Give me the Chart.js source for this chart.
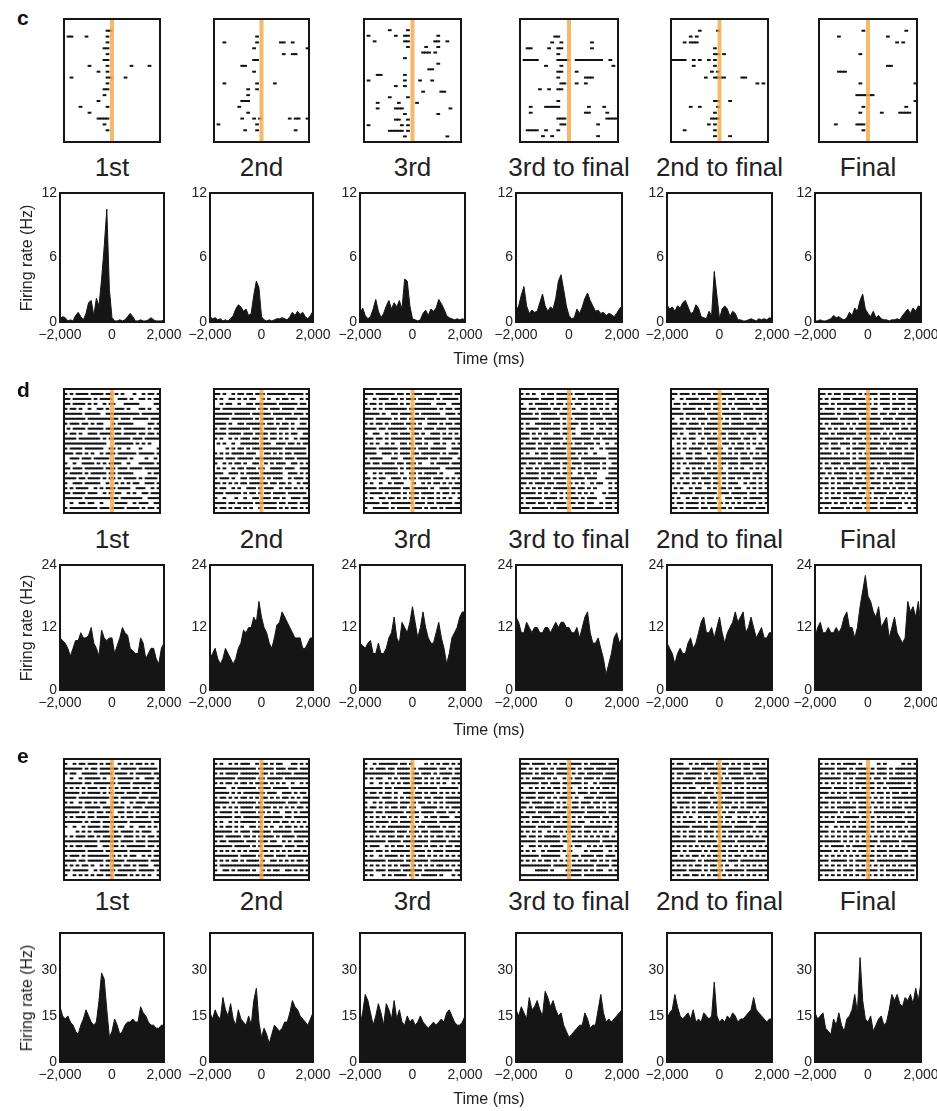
<!DOCTYPE html>
<html>
<head>
<meta charset="utf-8">
<script src="https://cdn.jsdelivr.net/npm/chart.js@4.4.1/dist/chart.umd.min.js"></script>
<style>
  html, body { margin: 0; padding: 0; background: #fff; }
  body { position: relative; width: 937px; height: 1111px; overflow: hidden;
         font-family: "Liberation Sans", Arial, Helvetica, sans-serif; color: #222; }
  .txt { position: absolute; white-space: nowrap; }
</style>
</head>
<body>
<script>
// ---- Conditions, axes and tick labels ----
const conditions = ['1st', '2nd', '3rd', '3rd to final', '2nd to final', 'Final'];
const panelLetters = ['c', 'd', 'e'];
const binTimes = [-2000,-1900,-1800,-1700,-1600,-1500,-1400,-1300,-1200,-1100,-1000,-900,-800,-700,-600,-500,-400,-300,-200,-100,0,100,200,300,400,500,600,700,800,900,1000,1100,1200,1300,1400,1500,1600,1700,1800,1900,2000];
const xTickValues = [-2000, 0, 2000];
const xTickLabels = ['\u22122,000', '0', '2,000'];
const yTicksC = [0, 6, 12];  const yMaxC = 12;
const yTicksD = [0, 12, 24]; const yMaxD = 24;
const yTicksE = [0, 15, 30]; const yMaxE = 42;
const spikeBinMs = 125;   // raster strings: one character per 125 ms, '#' = spike
const eventTime = 0;      // event marker (ms)

// ---- Firing rates (Hz), one value per entry of binTimes ----
const rateC1 = [0.3,0.5,0.4,0.1,0.2,0.1,0.6,0.9,0.5,0.2,0.8,1.8,2.0,0.6,2.2,1.5,4.0,7.0,10.5,3.0,0.4,0.1,0.1,0.2,0.1,0.2,0.5,0.8,0.5,0.1,0.1,0.2,0.1,0.1,0.2,0.4,0.2,0.1,0.1,0.1,0.2];
const rateC2 = [0.5,0.3,0.4,0.2,0.3,0.1,0.2,0.1,0.3,0.6,1.2,1.6,1.4,1.0,1.2,0.6,0.8,2.5,3.8,3.2,0.5,0.2,0.1,0.2,0.1,0.2,0.3,0.3,0.4,0.3,0.2,0.5,0.9,0.6,1.0,0.7,0.9,0.5,0.3,0.6,1.0];
const rateC3 = [0.8,1.3,0.6,0.3,0.5,1.2,2.1,1.0,0.4,0.8,1.5,2.0,1.2,1.8,1.4,2.0,1.2,4.0,3.8,1.5,0.3,0.2,0.1,0.2,0.8,1.1,0.6,1.2,1.0,1.3,2.1,1.7,1.2,0.6,0.4,0.3,0.2,0.3,0.2,0.3,0.2];
const rateC4 = [1.0,1.5,2.5,3.3,1.5,0.8,1.1,0.9,1.0,1.8,2.6,1.5,1.0,1.4,1.2,2.2,3.8,4.4,3.0,1.5,0.6,0.3,0.4,1.2,0.8,1.4,2.2,2.7,2.0,1.5,1.0,1.1,0.8,0.9,0.6,0.8,0.7,0.5,0.8,1.2,1.5];
const rateC5 = [1.6,1.2,1.4,1.0,1.5,1.3,1.8,2.0,1.4,0.8,0.9,1.6,1.3,0.5,0.4,0.3,1.0,0.6,4.7,2.5,0.3,1.2,1.5,1.2,0.5,1.0,0.8,0.2,0.2,0.1,0.1,0.2,0.3,0.2,0.1,0.3,0.2,0.3,0.2,0.4,0.3];
const rateC6 = [0.1,0.1,0.2,0.1,0.1,0.2,0.3,0.6,0.4,0.5,0.3,0.2,0.4,0.9,0.6,1.3,1.0,2.0,2.6,1.2,0.8,0.5,1.0,0.4,0.6,0.3,0.2,0.2,0.1,0.2,0.2,0.3,0.2,0.6,0.9,1.2,0.8,1.3,1.0,1.5,1.4];

const rateD1 = [10,9.5,9,8,6.5,8,9.5,9.5,11,10,10,10.5,12,9,8,6.5,11.5,10,9.5,10,10,7,8.5,10,12,11,10.5,8,7.5,7,7,10,9,6,7,8,8,6,5,8,9];
const rateD2 = [6,7,8,6,5,6,8,7,6,5,6,8,9,11.5,11,12,12,14,13,17,14,12,11,9,8,10,12.5,13,15,14,13,12,11,10,10,10,8,8,9,10,10];
const rateD3 = [9,8.5,8,9,9.5,7,7,9,7,7,8,10,11,14,10,9,13,12,11,13,16,13,10,12,15,12,10,9,9,11,13,10,8,5,7,10,11,12,14,15,15];
const rateD4 = [14,13,11,11,13,12,11,12,12,11,11,12,12,11,12,13,12,13,13,12,12,11,11,12,10,12,14,15,11,9,9,10,8,6,3,5,7,10,11,9,10];
const rateD5 = [9,8,7,5,7,8,7,7,9,10,8,9,11,13,14,11,11,12,10,12,14,11,9,11,12,13,15,13,14,15,11,12,14,12,10,11,12,10,10,11,11];
const rateD6 = [10,12,13,11,11,12,11,11,12,11,12,14,15,12,12,10,12,16,19,22,18,17,15,14,16,12,13,14,10,12,14,11,10,9,10,17,15,16,14,17,12];

const rateE1 = [18,15,14,15,13,12,10,9,12,14,17,15,13,12,13,20,29,27,17,8,10,14,12,9,10,12,13,13,14,13,13,18,16,15,13,12,12,11,11,12,12];
const rateE2 = [16,14,17,15,14,21,17,15,19,14,12,17,14,13,12,15,12,20,24,13,8,11,9,6,9,12,11,10,11,13,13,16,20,18,17,15,14,13,12,14,16];
const rateE3 = [12,16,22,20,16,12,15,19,16,12,19,17,14,20,14,17,13,12,15,13,14,12,13,15,13,12,11,12,13,12,13,14,13,16,17,15,13,12,12,13,15];
const rateE4 = [17,15,18,16,14,21,17,18,20,17,15,23,21,18,20,17,15,16,12,10,8,9,10,11,12,12,16,14,11,12,12,17,22,16,13,14,13,14,15,16,17];
const rateE5 = [14,16,17,22,18,15,14,15,16,14,17,13,14,13,16,15,14,15,26,15,13,14,13,15,14,16,15,13,14,14,15,16,17,21,17,16,15,14,13,14,14];
const rateE6 = [16,14,15,16,11,10,9,14,12,16,12,10,14,15,17,22,16,34,20,14,13,15,10,12,14,15,12,13,17,22,20,22,19,18,21,20,22,19,24,20,26];

// ---- Spike rasters, one string per trial ----
const rasterC1 = [
"",
"..............##",
".##....#......#",
"..............#",
".............##",
"..............#",
".............##",
"........#.....#.......#.....#",
"...........#..#",
"..#...........##....#",
"..............#",
".............##",
".............#",
"...........#",
".....#........#",
"........#",
"...........####",
".............#",
"..............#",
""];
const rasterC2 = [
"",
"",
"..............#",
"...#..........#.......##..#",
".............#.................#",
".......................#..##",
".............##",
".........##",
".............#",
"",
"...#..........#.....#",
"...........#..#",
"...........#",
".........###",
"........#",
"...........#",
".........#...#.#.........#.##..#",
".#............#",
"..........#...#............#",
""];
const rasterC3 = [
"",
"........#.....#",
".#........#..##.........#",
"...#.........##........##..#",
"..............#.....#...#",
"...................###.#",
".............#",
"........................#",
".....................##",
"....##.......#",
".#...........#....#...#",
"..........#..#",
"...................#.....##",
"........#.....#",
"....#......#.....#",
"....#.....###...............#",
".............#..........#",
"..........##..#",
".#..........#.#",
"........#####.#",
".............#.............#"];
const rasterC4 = [
"",
"",
"...........##",
"..........#..#.........#",
"..##.....#..##.........#",
"............#",
".#####......####..#########..#",
"........#....#................#",
"............##....#",
"............#........###",
".............##...#..#",
"......#..#..##",
"",
"............#",
"...#....#####.........#....#",
"...#.................##.....#",
"............###.............####",
".............##..........#",
"..####..#...#",
".......#..#..............#"];
const rasterC5 = [
"",
".........#.....#",
"......#.#",
"....#.###",
"..............#",
"..............##.#",
"#####..#.#..#.#",
".......#......#",
".............#.#",
"...........#..####.....##",
"............................#.#",
"",
"",
"..............##...#",
"......#..#.....#",
"..............#",
".............###",
"............#.#",
"....#.........#",
"..............#....#"];
const rasterC6 = [
"",
"..............#.............#",
"......#...............#",
".........................#.#",
"",
".............#",
"",
"......................##",
"......###",
"",
".............#.................#",
"",
"............######",
"...............................#",
"..............#.............#",
".............#......#.....####",
"",
".....#......###",
"..............#",
""];

const rasterD1 = [
"#.#.####.####.##.#.#...#..#.##.#",
"##.######.#.####..###.#..##.#.##",
"##.####.#.#..#.##...#####.....##",
"#.##.#..#..##.#..###.#...##.#..#",
"######.#####..###########.######",
"#######.##########.###.#####.###",
"#.###.##.#.##...#.#####.....##.#",
".#.####.#####.#####.#######.#.##",
"#.##.#..###.####.##.####.##.##.#",
"####.#######.#.#######.###.#####",
"##############...######.#.#.#...",
"#.####.######..##.#..#...#.....#",
"###.##.#.#..#.###.######.#####.#",
"..###.###.#####..####.#....#..#.",
"#..#..####.#.#.####..#...#####.#",
"##.###.######.###.###.####.#####",
"#.####.#.#####.##.#####.....#.##",
"####.##.####.#.##.#.####.#.####.",
"#..###.#####..#..#.#.#.##..###.#",
"#.#.####..#.#.###.####..###..#.#",
"##.####.###..#.#.##..#.#..##.###",
"######.###########.#######..####",
"..#..##.##..#....####..#.###..##",
"#.#########.###.####.####.#.##.#"];
const rasterD2 = [
"##.#..#.##.##.###.######.#####.#",
"#.#..##.#.#.##..#.#..#.##.#..#.#",
"..#.##..#..##.#######.######.##.",
"##.###########.###.###.####.####",
"######.#####.######.######.###.#",
"#####.#######.#.####.##.####.###",
"####.#..##.######.##.#.##.#..##.",
"#.##.#######.###.####.###.#.####",
"####.####.###.####.##.#.#.##..##",
"#.#..#.#.###.##.##.##.#.#..#.###",
".#.#..#..######.###..###.##.#.##",
"....#.#.##.#.##########.#######.",
"#.#.#.####.###...##.#.#.##.####.",
"###.###.#####.#########.###.####",
"#..#.#.##.#..##..#.#.###..##.#.#",
".#.#..#.##.###.##..####.###..###",
"###..###.#.####.#######..###.#.#",
"#.###.#..##.#####.#.###..#.###.#",
"##.#.#.#.##.######.##.##.#..#.##",
"#.##..#.#..###.#.###..#.##.#.#.#",
"###.#####.#.##.#.##.####.######.",
"#..#...#..#..##.###.##.#..###.##",
"####.##.#####.#######.##.###.###",
"#.##.#.##.#.#..#.####.#.#.##.#.#"];
const rasterD3 = [
"###.######.##.#.###.####.####.##",
"#..#.###.##.#.###.#####.#.#####.",
"#.##.#.####.#.#..#####..###..###",
"##.#.#.#######.#########.#.##.##",
"#####.#..##.####.#.######..###.#",
"###.#####.#.##.#####.######.####",
"#.#.##.#.####.###.#..###.#.##.##",
"####.##.######.####.###.###.####",
"#..##..#.##.###.##.#..###.#.#.#.",
"###.##.#.#######.##.#####.###.##",
"#.#.#..#.#..##.#.##.#..##.#..#.#",
"####.######.#####.###.#####..###",
"####..###.#.###.##.######.#.###.",
"#.####...##..###.####.##.####..#",
"##.##.####.##.###.#...#.####.###",
"###########.#.###########..#####",
"#..#.#.####.#..##.#.####.#....##",
"##.#.##..###.#.##.####.###.#.#.#",
"#.#..#..#.###...#..#.#.##.#.#.##",
"####.#######.##.#####.#..###.###",
"#.####.#.###.#.###.####.#.##.#.#",
"#.#..##.##.#.#.###.#.##.#.#.#..#",
"#####.##.#######.###.##.#####.##",
"#..#####.#.####.###.#.##.#.#####"];
const rasterD4 = [
"#.#.#..#.##.#####.###.#####.####",
"######.####.####.#.###.#.##.####",
"#..#.####.#.##.##.##.#.#.##.#..#",
"##.##.####.##.##.#..##.##.#.#.##",
"####.#.#####.###.#####.###.###.#",
"######.######.#.#.####.####.####",
"#.#..#####.##.#.###.##.#.###.###",
"#.####.######.####..##.#..#.##.#",
"###.#.#.#..##.##.#..####.###.#.#",
"###.##.#######.#.######.##.#####",
"#.###.#.##.##.###.##.###.#..#..#",
"#####.###.#####.######.#..#.####",
"#.#..#.##.#####.##.#.#..#....###",
"#########.#########.########.###",
"##.##.#.##.##.##.###.#####.#..##",
"#.##.#.######.#.##.#.#.###.#.###",
"#.####.#.##.#.###..#.##.#....###",
"######.###.####.#####.###...####",
"##.#.###.##.###.#.#.#..#.##..#.#",
"#.#.#.#.##.#######.##.#.#....#.#",
"#####.#.#.##.#.###.#.#.#...#.###",
"#.#####.####.#.####.#.###...####",
"#.###.##.#.####.##.##.##..#.##.#",
"###.#####.#.####.####.#####.##.#"];
const rasterD5 = [
"##.###.#.####.######.###.###.###",
"#..#.####.#.####.#.##.###.#.#.##",
".##.#.#######.##.#.#.#####.##.##",
"###.####.#.##.##.##.#.#####.####",
"####.######.####.######.######.#",
"#..#.#.#.###.####.#.###.#.##.#.#",
"##.##.###.#.####.##.####.####.##",
"####.#####.#####.##########.####",
"##.#..##.#.##.#.##.###.#.###.#.#",
"#.#.#.##..#.####.#.####.##.#..##",
"..#.#..#.##.###..##.#.##.#.#.#.#",
"#.#.#.####.#.####..#.###.#..###.",
"#.#..##.##..#.####.#.#.##.#.#.##",
"####.##.####.##.######.###.#####",
"#.#.#.#####.#.#.##.###.####.##.#",
"#.#..#.#.#.##.#.#..#.#.#..#.#.#.",
"###.##.####.######.#######.###.#",
"#..#.#.##.###.##.#.##.#.##.#.#.#",
"#.#.##.#.#.##.##.#.###..#.##.#.#",
".#.#..#.##..#.#.##.#.##..#.#.#.#",
"##.####.#######.###.#####.##.###",
"#.#..#.##.#.##.#..##.##.#.####.#",
"#.##.####.#.###.#.#.#.#.####.#.#",
"##.#.####.##.#####.#.####.#.###."];
const rasterD6 = [
"##.#.##.####.#.####.###.#.######",
"#.#.###.##.####.#.#.###.#.##.###",
"###.#.######.####.#.###.####.###",
"#.###.#.#.######.##..##.##.#.#.#",
"#####.#.####.###.##.##.##.######",
"######.######.######.###.###.###",
"#.#.####.#.#.######.######.#.#.#",
"##.#.#.##.#.#########.#.##.##.##",
"###.#.######.#######.#.#.#######",
"#.######.#.###.##.#.###.#.#.##.#",
"###.##.###.#.#######.#.######.##",
"#.#.###..#.####.###.#.##.##.#.##",
"####.#.#.#.#.#.#######.####.###.",
"##########.#.##################.",
"#.#.###.##.#####.#.#.##.##.####.",
"#.##.#.#.###.######.#.####.#.###",
"##.#.####.#.#.####.##.#.####.#.#",
"#.#.#.###.#.##.###.#.###.#.####.",
"###.#.#.###.####.###.#.#.###.#.#",
"#.#.#.####.##.####.#.##.#.##.###",
"#.#.#.#.####.##.#.####.#.##.#.##",
"#.#.###.#.####.##.#.#.####.#.#.#",
"####.#.##.#.#.#####.#.#####.#.##",
"#.#.####.#.###.####.#####.#..#.#"];

const rasterE1 = [
"#..#.##.###.#.##..#.#.#.##.#.#..",
"######.#.##.######.#####.######.",
"#.##..#####.####.####.#.#####.##",
"..#..#.#####.#..#.#####.#..###.#",
"######.##.#######.####.######.##",
"#.#.#.#.###.##.#.#.###.##.#.#.##",
"#####.#.####.#.#.###.####.#####.",
"####.##########.##.#####.###.###",
"#.#..#.##.#.##..##.#..#.###.##.#",
"######.#####.#######.#.###.#####",
"#####.#.##.##.##..##.##.#.##.#.#",
"#.#.###.##.####.##.#.##.####.###",
"######.#.###.########.#######.##",
"#..#..#.####.##.#.##..#..##.#.#.",
"....#.#.#.#####.##.####.#.###..#",
"#.#.###.##.#.######.###.#.#.##.#",
"###########.######.####.###.####",
"#.#.##.####..##.##.#.######.##.#",
"#######.#####.#######.#######.##",
"#.###.#.#######.#.#.#.##..#.#.##",
"####.##.#####.######.#######.###",
"#.#.#.##.#..#.#.###.##.#.###..##",
"##.#####..#.#####.######.#####.#",
"#..#.#.#.#.##.##.####.#.#.#.#..#"];
const rasterE2 = [
"#.#..#.#.###..#.##.#.##...##.#.#",
"##############.#####.###.###.###",
"#.#.####.######.##.#.#####.#####",
"#######.######.##.#####.########",
"#.#.##.#.##.#.####.#.#.#..#..#.#",
"####..#.######.####.#####.######",
"#####.#.#.#######.###..###.#.##.",
"#.##.#.#.##.#.#.##.#.#.##.#.#.##",
"#####.#.######.#.#######.###.###",
"##.#.#.#.####.#####.#.#.#.#.##.#",
"#.####.#.#####.##.#.##..##.#.###",
"######.##.######.######.##.#####",
"#.#..#.#.#####.#.##.##.##.#.#.#.",
"#.#.##.#.#..##.#.#.#..#.##.#.#.#",
"######.#.###.######.######.#####",
"###.#####.##.#.#####.#.####.####",
"#.##.#####.###.###.##..#.#.###.#",
"######.#####.#.#.######.###.####",
"#.#.#.#.#.#.###.##.#.#.#.#.##.#.",
"########.#####.#.###.###.#######",
"#.#.#.##.#.####.#..##.#.#.#.##.#",
"#.##############################",
"#..##.#.####.#..#.#.##..##.#.#.#",
"################################"];
const rasterE3 = [
"#..#.######.##.#....#.#.#.##.#.#",
"#.#.###.##.####.#.######.##.#.##",
"##########.####.##.###.#.####.##",
"#.#.##..#.#.###.###.#.#.#.##.###",
"..#..#.#.#.#.##.###.#.#.#.#..#.#",
"######.##.#######.######.######.",
"#.##.#.##.#..###.##.#.##.#.#.#.#",
"#####.###.#.#.#####.##.###.#####",
"#..#.#.####.###.#.##.#.#.#.#####",
"#.##.#.#.##.##.##..#####.#.#.###",
"###.##.######.####.####.###.##.#",
"#.#.#.#.#.#.##.#.#..#.##.###..##",
"###.####.##.####.#.#####.#######",
"#.#.#.#.#######.#.##.####.#.##.#",
"####.#####.###.###.##.####.###.#",
"#.#.#.#.##.##.#.#.#.#.#.##.#.#.#",
"#######.####.########.#####.####",
"#.###..#.#.##.#.###.#.##.#.##.##",
"###.##.#.######.####.#.###.#####",
"#.#..#.####.#.#.#.##.#.#.#.#.#.#",
"#######.#####.#######.##########",
"#.#.#.#.#.#.###.#.#.#.#.##.#.#.#",
"###.###.####.######.#########.##",
"#.#...#.#.####.#.#.#####.#...#.#"];
const rasterE4 = [
"###.####.#.#.##.####.#.#####.###",
"##.#.#.##.#.######.#.###.######.",
"####.#.####.####.#.##.#####.####",
"#.#.####.#.#..#.#.##.###.#.####.",
"######.##.###.######.#..#.######",
"#..#.#.#.#.##.#.#..#.#.#.#.##.#.",
"#####.#####.#.####.###.##.#####.",
"#.###.##.#.#.####.#..###.##.####",
"###.###.###.#.#..##.###.##.#.###",
"##.#.######.#.##.##.#.##.#.#.#.#",
"#.###.####.####.#####.######.###",
"###.###.#####.##.#.#.#####.##.##",
"#.#.##.#.##.#.##.#.##..#.#.#.#.#",
"#####.####.#########.#########.#",
"#.#.#.#..#.#.#.###.#.##.#.#.#..#",
"##.##.#.#####.#..#.#.#.#.#.##.#.",
"#####.#######.##.#########.#####",
"#..##.#.#.####..#.##..#.#.#.##.#",
"#.#.#..#.####.#.#....#.####..#.#",
"######.######..#.##.####.##.###.",
"#.#.#.#.##.#.#.#.#.#.#.##.#.#.##",
"##########.#####.#######.####.##",
".....####.#....#####.#.#.##..#.#",
"####################.###########"];
const rasterE5 = [
"#.##..#.#.####.#.##.#.#.##.##.#.",
"######.####.######.####.##.#####",
"#.##.#####.#.###.#.####.###.###.",
"#.#.####.#.##.#.#.#.####.#.#.###",
"#######.#####.######.###.#######",
"#.#.#.##..#.##.#.#.#.#.#.#.#.#.#",
"##########.###.#####.###.#######",
"#.#.####.###.##.#.######.##.####",
"#.####.#.####.######.#.#.######.",
"##.#.#.#.###.#.##.#.##.#.##.#.##",
"####.#.#.#######.#.##.####.#.###",
"#.#.#.#..#.##.#.#.##..#.#.#.#.#.",
"#.#.####.#.#.####.#.#.###.##.###",
"######.#####.#######.######.####",
"#.#.#.##.#.###.#.#.#####.#.#.#.#",
"###.#.##.#.#.#.#.#.#.#.#.##.#.##",
"########.######.#####.#########.",
"#.#.#.#.#.#.#.##.#.#.#.#.#.#.#.#",
"###.#.####.#.#####.###.#.##.####",
"##.#.#.##.#.#.##.#.#.##.#.#.#.#.",
"########.#.#######.###.#########",
"#.#.#.#.##.#.##.#.#..#.#.#.#.#.#",
"#####.####.#.####.######.#######",
"#.#.##.##.#.#.##.#.#.#.#.#.#.#.#"];
const rasterE6 = [
"#.#.#.#.####.#.....#.#.....#.#.#",
"#####.###.#.####.#.###.#.#######",
"#.#.#.#.####.#####.###.#.###.#.#",
"#######.#.#.#####.##.#.#########",
"#.#.#.#.#.#.######.##.######.#.#",
"####.####.#.#.####.#.#.#######.#",
"###.#.#.#.######.#.##.#.##.##.##",
"#.#######.#.#####.#.#.#.########",
"###.#.#.##.#.###.#.##.#.#.#.#.##",
"#.#.#.######.####.#.#.#.###.####",
"######.#.#.#.####.##########.#.#",
"#.#.#.#.#####.##.#.#.#.#.##.###.",
"#####.####.#.###.#.#########.###",
"#.#..#.#.#.#.###.#.#.#.#.##.#.##",
"###.#.#.#.######.#.##.#.#.##.###",
"#.#.#.#.#.#.#.#.#.#.#.#.#.#.#.##",
"#######.#.#.#.#####.######.#####",
"#.#.####.#.#######.#.#.#.#.#.###",
"####.#.#.#.#.###.#.###.######.##",
"#.#.#.#.#.#.#.####.#.#.#.##.#.##",
"###.#####.#.######.#############",
"#.#.#.#.#.#.#.#.#.#.#.#.#.#.#.##",
"#####.#.###.#######.#.#########.",
"#.#.#.#.#.#.#.#.#.#.#.#.#.#.#.#."];

// ---- Page layout ----
const FONT = '"Liberation Sans", Arial, Helvetica, sans-serif';
const colLeft  = [60, 210, 360, 516, 667, 815];
const colWidth = [104, 103, 105, 106, 105, 106];
const figureRows = [
  { letterTop: 7,   rasterTop: 15,  rasterH: 131, labelY: 167, histTop: 193, histH: 129, timeY: 359,
    rasters: [rasterC1, rasterC2, rasterC3, rasterC4, rasterC5, rasterC6],
    rates: [rateC1, rateC2, rateC3, rateC4, rateC5, rateC6], yMax: yMaxC, yTicks: yTicksC },
  { letterTop: 379, rasterTop: 385, rasterH: 132, labelY: 539, histTop: 565, histH: 125, timeY: 730,
    rasters: [rasterD1, rasterD2, rasterD3, rasterD4, rasterD5, rasterD6],
    rates: [rateD1, rateD2, rateD3, rateD4, rateD5, rateD6], yMax: yMaxD, yTicks: yTicksD },
  { letterTop: 745, rasterTop: 755, rasterH: 129, labelY: 901, histTop: 933, histH: 129, timeY: 1099,
    rasters: [rasterE1, rasterE2, rasterE3, rasterE4, rasterE5, rasterE6],
    rates: [rateE1, rateE2, rateE3, rateE4, rateE5, rateE6], yMax: yMaxE, yTicks: yTicksE }
];

// Box frame around each plotting area
const panelFrame = {
  id: 'panelFrame',
  afterDraw(chart) {
    const a = chart.chartArea, ctx = chart.ctx;
    ctx.save();
    ctx.strokeStyle = '#161616';
    ctx.lineWidth = 2;
    ctx.strokeRect(a.left, a.top, a.right - a.left, a.bottom - a.top);
    ctx.restore();
  }
};

function addCanvas(left, top, w, h) {
  const c = document.createElement('canvas');
  c.width = w; c.height = h;
  c.style.cssText = `position:absolute;left:${left}px;top:${top}px;width:${w}px;height:${h}px`;
  document.body.appendChild(c);
  return c;
}

function addText(text, css) {
  const d = document.createElement('div');
  d.className = 'txt';
  d.textContent = text;
  d.style.cssText += css;
  document.body.appendChild(d);
  return d;
}

function drawRaster(trials, left, top, w, h) {
  const pad = 2;
  const cv = addCanvas(left - pad, top - pad, w + 2 * pad, h + 2 * pad);
  const spikes = [];
  trials.forEach((s, i) => {
    for (let j = 0; j < s.length && j < 32; j++) {
      if (s[j] === '#') spikes.push({ x: -2000 + (j + 0.5) * spikeBinMs, y: i + 1 });
    }
  });
  const dashHalf = w / 32 / 2 + 0.25;
  new Chart(cv, {
    type: 'scatter',
    data: { datasets: [
      { type: 'line', data: [{ x: eventTime, y: 0 }, { x: eventTime, y: trials.length + 1 }],
        borderColor: 'rgba(244,168,74,0.82)', borderWidth: 4, pointRadius: 0, fill: false },
      { data: spikes, pointStyle: 'line', pointRadius: dashHalf, pointBorderWidth: 2,
        pointBorderColor: '#111', pointBackgroundColor: '#111', showLine: false }
    ]},
    options: {
      responsive: false, animation: false, devicePixelRatio: 1, events: [],
      layout: { padding: pad },
      plugins: { legend: { display: false }, tooltip: { enabled: false } },
      scales: {
        x: { type: 'linear', display: false, min: -2000, max: 2000 },
        y: { type: 'linear', display: false, min: 0, max: trials.length + 1, reverse: true }
      }
    },
    plugins: [panelFrame]
  });
}

function drawRate(values, yMax, yTicks, left, top, w, h) {
  const padL = 44, padR = 26, padT = 10, padB = 26;
  const cv = addCanvas(left - padL, top - padT, w + padL + padR, h + padT + padB);
  new Chart(cv, {
    type: 'line',
    data: { datasets: [{
      data: binTimes.map((t, i) => ({ x: t, y: values[i] })),
      fill: 'origin', backgroundColor: '#151515', borderColor: '#151515',
      borderWidth: 1, pointRadius: 0, tension: 0
    }]},
    options: {
      responsive: false, animation: false, devicePixelRatio: 1, events: [],
      layout: { padding: { left: 0, right: padR, top: padT, bottom: 0 } },
      plugins: { legend: { display: false }, tooltip: { enabled: false } },
      scales: {
        x: {
          type: 'linear', min: -2000, max: 2000,
          grid: { display: false, drawTicks: false }, border: { display: false },
          afterBuildTicks(s) { s.ticks = xTickValues.map(v => ({ value: v })); },
          afterFit(s) { s.height = padB; s.paddingLeft = 0; s.paddingRight = 0; },
          ticks: { padding: 5, maxRotation: 0, minRotation: 0, autoSkip: false, color: '#222',
                   font: { family: FONT, size: 14 },
                   callback: v => xTickLabels[xTickValues.indexOf(v)] }
        },
        y: {
          type: 'linear', min: 0, max: yMax,
          grid: { display: false, drawTicks: false }, border: { display: false },
          afterBuildTicks(s) { s.ticks = yTicks.map(v => ({ value: v })); },
          afterFit(s) { s.width = padL; s.paddingTop = 0; s.paddingBottom = 0; },
          ticks: { padding: 3, color: '#222', font: { family: FONT, size: 14 }, callback: v => String(v) }
        }
      }
    },
    plugins: [panelFrame]
  });
}

figureRows.forEach((row, r) => {
  addText(panelLetters[r], `left:17px;top:${row.letterTop}px;font-size:21px;line-height:21px;font-weight:bold;color:#111;`);
  for (let k = 0; k < 6; k++) {
    const x = colLeft[k], w = colWidth[k];
    drawRaster(row.rasters[k], x, row.rasterTop, w, row.rasterH);
    addText(conditions[k], `left:${x + w / 2 - 90}px;width:180px;text-align:center;top:${row.labelY - 13}px;font-size:26px;line-height:26px;`);
    drawRate(row.rates[k], row.yMax, row.yTicks, x, row.histTop, w, row.histH);
  }
  const yc = row.histTop + row.histH / 2;
  addText('Firing rate (Hz)', `left:27px;top:${yc}px;font-size:16px;line-height:16px;transform:translate(-50%,-50%) rotate(-90deg);`);
  addText('Time (ms)', `left:489px;top:${row.timeY}px;font-size:16px;line-height:16px;transform:translate(-50%,-50%);`);
});
</script>
</body>
</html>
